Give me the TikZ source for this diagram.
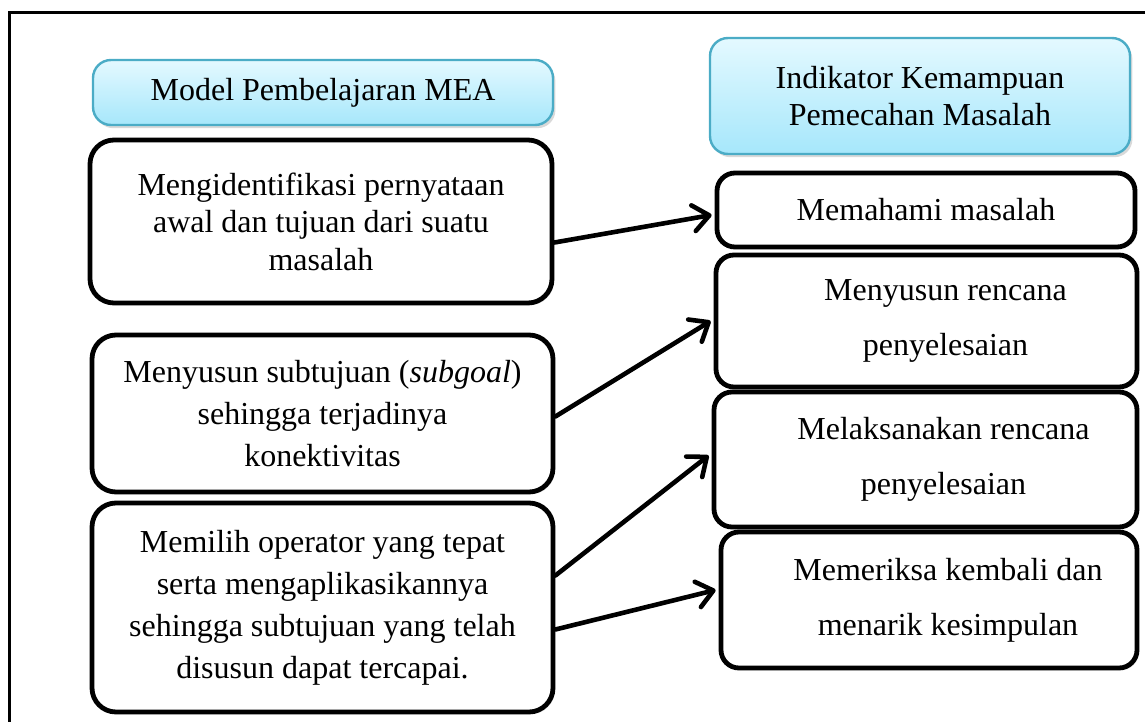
\documentclass[tikz,border=0pt]{standalone}
\usepackage{fontspec}
\setmainfont{Liberation Serif}
\usetikzlibrary{arrows.meta,shadows,calc}
\definecolor{hdrtop}{RGB}{228,249,255}
\definecolor{hdrbot}{RGB}{166,231,251}
\definecolor{hdrline}{RGB}{75,172,198}
\begin{document}
\begin{tikzpicture}[x=0.5pt,y=-0.5pt,
  font=\fontsize{16pt}{20pt}\selectfont,
  hdr/.style={rounded corners=9pt, draw=hdrline, line width=1.2pt,
    top color=hdrtop, bottom color=hdrbot,
    drop shadow={shadow xshift=1.2pt, shadow yshift=-1.6pt, opacity=0.3},
    align=center, inner sep=0pt},
  bbox/.style={rounded corners=12pt, draw=black, line width=2.4pt, fill=white,
    drop shadow={shadow xshift=1pt, shadow yshift=-1.2pt, opacity=0.12},
    align=center, inner sep=0pt},
  rbx/.style={bbox, rounded corners=9pt},
  arr/.style={line width=2.3pt, line cap=round, -{Straight Barb[length=8pt,width=13pt,line cap=round,line join=round]}}
]
\useasboundingbox (0,0) rectangle (1145,722);
\coordinate (frbl) at (9,722);
\coordinate (frtl) at (9,13);
\coordinate (frtr) at (1145,13);
\draw[line width=1.5pt] (frbl) -- (frtl) -- (frtr);

% headers
\node[hdr, minimum width=230pt, minimum height=32.5pt] (hL) at (323,92.5) {Model Pembelajaran MEA};
\node[hdr, minimum width=210pt, minimum height=58pt, font=\fontsize{16pt}{18.5pt}\selectfont] (hR) at (920,96) {Indikator Kemampuan\\Pemecahan Masalah};

% left boxes
\node[bbox, minimum width=231pt, minimum height=81.5pt, font=\fontsize{16pt}{18.7pt}\selectfont] (l1) at (321,221.5)
  {Mengidentifikasi pernyataan\\awal dan tujuan dari suatu\\masalah};
\node[bbox, minimum width=230.5pt, minimum height=78.5pt, font=\fontsize{16pt}{21pt}\selectfont] (l2) at (322.5,413.5)
  {Menyusun subtujuan (\textit{subgoal})\\sehingga terjadinya\\konektivitas};
\node[bbox, minimum width=230.5pt, minimum height=104.5pt, font=\fontsize{16pt}{21pt}\selectfont] (l3) at (322.5,607.5)
  {Memilih operator yang tepat\\serta mengaplikasikannya\\sehingga subtujuan yang telah\\disusun dapat tercapai.};

% right boxes
\node[rbx, minimum width=209pt, minimum height=37pt] (r1) at (926,210) {Memahami masalah};
\node[rbx, minimum width=210.5pt, minimum height=66pt, font=\fontsize{16pt}{27.5pt}\selectfont] (r2) at (926.5,321)
  {\hspace*{19pt}Menyusun rencana\\\hspace*{19pt}penyelesaian};
\node[rbx, minimum width=211.5pt, minimum height=67.5pt, font=\fontsize{16pt}{27.5pt}\selectfont] (r3) at (925.5,459.5)
  {\hspace*{18pt}Melaksanakan rencana\\\hspace*{18pt}penyelesaian};
\node[rbx, minimum width=208pt, minimum height=68pt, font=\fontsize{16pt}{27.5pt}\selectfont] (r4) at (929,600)
  {\hspace*{19pt}Memeriksa kembali dan\\\hspace*{19pt}menarik kesimpulan};

% arrows
\draw[arr] ($(l1.east)+(0,21)$) -- ($(r1.west)+(-3,5)$);
\draw[arr] ($(l2.east)+(0,3)$) -- ($(r2.west)+(-3,0)$);
\draw[arr] ($(l3.east)+(0,-32)$) -- ($(r3.west)+(-3,-4)$);
\draw[arr] ($(l3.east)+(0,22)$) -- ($(r4.west)+(-3,-10)$);
\end{tikzpicture}
\end{document}
